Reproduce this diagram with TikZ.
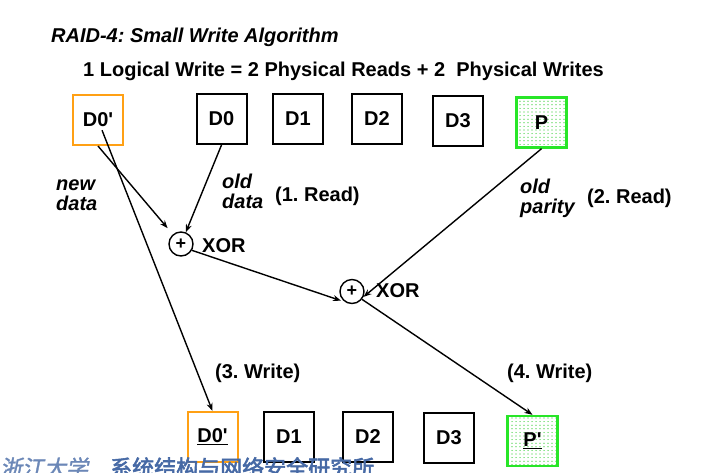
\documentclass[tikz,border=0pt]{standalone}
\usepackage{fontspec}
\setmainfont{Liberation Sans}
\newfontfamily\cjkfont{Noto Sans CJK SC}[FakeBold=2.5]
\newfontfamily\cjkbrush{Noto Sans CJK SC}[FakeBold=1.5, FakeSlant=0.2]
\usetikzlibrary{arrows.meta}
\usetikzlibrary{patterns.meta}
\definecolor{diskorange}{RGB}{255,160,20}
\definecolor{paritygreen}{RGB}{40,230,40}
\definecolor{dotgreen}{RGB}{30,200,30}
\definecolor{footblue}{RGB}{70,105,165}
\tikzdeclarepattern{
  name=paritydots,
  type=uncolored,
  bottom left={(-1pt,-1pt)},
  top right={(1pt,1pt)},
  tile size={(4pt,3.6pt)},
  code={\fill (0pt,0pt) circle (0.6pt);}
}
\frenchspacing

\begin{document}
\begin{tikzpicture}[x=1pt, y=-1pt]
                    \tikzstyle{disk} = [draw, line width=2pt, minimum size=50pt, inner sep=0pt, font=\bfseries\fontsize{20}{20}\selectfont]
                    \tikzstyle{newdisk} = [disk, draw=diskorange]
                    \tikzstyle{paritydisk} = [disk, draw=paritygreen, line width=2.4pt, pattern=paritydots, pattern color=dotgreen]
                    \tikzstyle{xorgate} = [draw, circle, line width=1.4pt, minimum size=24pt, inner sep=0pt, font=\bfseries\fontsize{18}{18}\selectfont]
                    \tikzstyle{arr} = [-{Stealth[length=8pt,width=6pt]}, line width=1.4pt]
                    \tikzstyle{lbl} = [anchor=base west, inner sep=0pt, font=\bfseries\fontsize{20}{20}\selectfont]
                    \tikzstyle{note} = [lbl, align=left, font=\bfseries\itshape\fontsize{20}{20}\selectfont]
                    \clip (0, 0) rectangle (701, 472);
                    \node[lbl, font=\bfseries\itshape\fontsize{20}{20}\selectfont] (title) at (51, 42) {RAID-4: Small Write Algorithm};
                    \node[lbl] (subtitle) at (83, 76) {1 Logical Write = 2 Physical Reads + 2\ \ Physical Writes};
                    \node[newdisk] (topnew) at (98, 120) {D0\textquotesingle};
                    \node[disk] (topd0) at (221.5, 119) {D0};
                    \node[disk] (topd1) at (298, 119) {D1};
                    \node[disk] (topd2) at (377, 119) {D2};
                    \node[disk] (topd3) at (458, 120.5) {D3};
                    \node[paritydisk] (topp) at (541.5, 122.5) {P};
                    \node[newdisk] (botnew) at (212.5, 437) {\underline{D0\textquotesingle}};
                    \node[disk] (botd1) at (289, 437) {D1};
                    \node[disk] (botd2) at (368, 437) {D2};
                    \node[disk] (botd3) at (449, 438) {D3};
                    \node[paritydisk] (botp) at (532.5, 441) {\underline{P\textquotesingle}};
                    \node[xorgate] (xor1) at (181, 244) {+};
                    \node[xorgate] (xor2) at (352, 291.5) {+};
                    \node[lbl] (xor1lbl) at (202, 252) {XOR};
                    \node[lbl] (xor2lbl) at (376, 297) {XOR};
                    \node[note] (newdata) at (56, 210) {new\\data};
                    \node[note] (olddata) at (222, 208) {old\\data};
                    \node[note] (oldparity) at (520, 213) {old\\parity};
                    \node[lbl] (read1) at (275, 201) {(1. Read)};
                    \node[lbl] (read2) at (587, 203) {(2. Read)};
                    \node[lbl] (write3) at (215, 378) {(3. Write)};
                    \node[lbl] (write4) at (507, 378) {(4. Write)};
                    \draw[arr, shorten >=8pt] (topnew.south) -- (xor1);
                    \draw[arr] (topd0.south) -- (xor1);
                    \draw[arr, shorten <=11pt] (topnew.center) -- (botnew.north);
                    \draw[arr, shorten >=4pt] (xor1.-30) -- (xor2.235);
                    \draw[arr] (topp.south) -- (xor2.-25);
                    \draw[arr] (xor2.-38) -- (botp.north);
                    \node[anchor=base west, inner sep=0pt, text=footblue!80, font=\cjkbrush\fontsize{22}{22}\selectfont] (zju) at (0, 476) {浙江大学};
                    \node[anchor=base west, inner sep=0pt, text=footblue, font=\cjkfont\fontsize{22}{22}\selectfont] (institute) at (110, 476) {系统结构与网络安全研究所};
                \end{tikzpicture}
\end{document}
